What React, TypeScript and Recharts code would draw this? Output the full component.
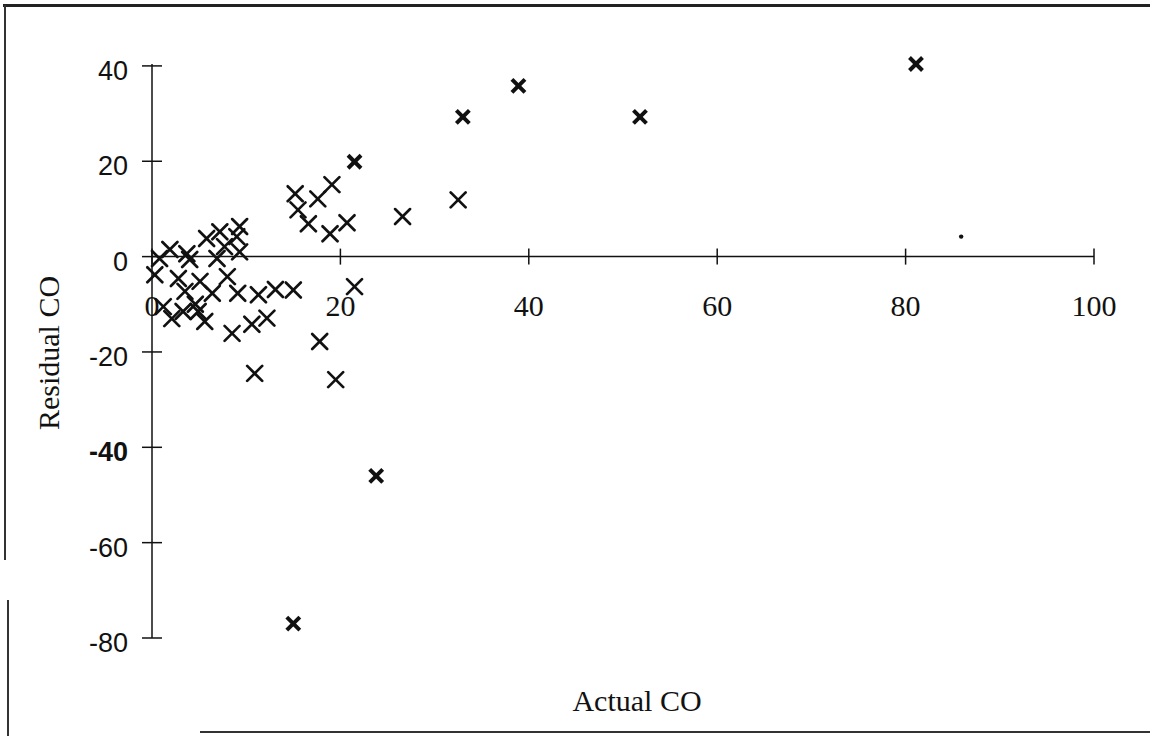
import React from 'react';
import { ScatterChart, Scatter, XAxis, YAxis, ReferenceLine, ReferenceDot } from 'recharts';

// thin "×" markers (most of the points)
const thinActual = [
  0.8, 1.9, 4.0, 3.7, 5.8, 6.9, 7.7, 7.2, 9.0, 9.3, 9.3,
  0.3, 2.8, 8.0, 5.1, 3.5, 6.4, 9.1, 4.6, 1.2, 2.1, 3.3, 4.9, 5.6,
  11.3, 13.1, 15.0, 12.2, 10.6, 8.5, 10.9, 19.5, 17.8, 21.5,
  15.2, 15.5, 16.6, 17.6, 19.1, 18.9, 20.7, 26.6, 32.5,
];
const thinResidual = [
  -0.4, 1.5, -0.6, 0.6, 3.8, -0.4, 2.1, 5.2, 4.2, 6.3, 1.0,
  -3.8, -4.6, -4.2, -5.2, -7.3, -7.7, -7.7, -10.0, -10.5, -13.0, -11.5, -11.5, -13.6,
  -8.0, -6.9, -7.0, -12.9, -14.2, -16.1, -24.5, -25.8, -17.8, -6.3,
  13.2, 9.8, 6.9, 12.1, 15.1, 4.8, 7.1, 8.4, 11.9,
];

// bold "x" markers
const boldActual = [81.1, 38.9, 33.0, 51.8, 21.5, 23.8, 15.0];
const boldResidual = [40.4, 35.8, 29.3, 29.3, 19.9, -46.0, -77.0];

// single dot
const dotActual = [85.9];
const dotResidual = [4.2];

const xTicks = [0, 20, 40, 60, 80, 100];
const yTicks = [40, 20, 0, -20, -40, -60, -80];

const zip = (xs: number[], ys: number[]) => xs.map((x, i) => ({ x, y: ys[i] }));
const thinData = zip(thinActual, thinResidual);
const boldData = zip(boldActual, boldResidual);
const dotData = zip(dotActual, dotResidual);

const INK = '#111';
const SERIF = '"Liberation Serif", "Times New Roman", serif';
const SANS = '"Liberation Sans", Arial, sans-serif';

const ThinCross = (props: any) => {
  const { cx, cy } = props;
  const s = 7.5;
  return (
    <g stroke={INK} strokeWidth={2.7} strokeLinecap="round">
      <line x1={cx - s} y1={cy - s} x2={cx + s} y2={cy + s} />
      <line x1={cx - s} y1={cy + s} x2={cx + s} y2={cy - s} />
    </g>
  );
};

const BoldCross = (props: any) => {
  const { cx, cy } = props;
  const s = 6.5;
  return (
    <g stroke={INK} strokeWidth={4}>
      <line x1={cx - s} y1={cy - s} x2={cx + s} y2={cy + s} />
      <line x1={cx - s} y1={cy + s} x2={cx + s} y2={cy - s} />
    </g>
  );
};

const Dot = (props: any) => <circle cx={props.cx} cy={props.cy} r={2.2} fill={INK} />;

const YTick = (props: any) => {
  const { x, y, payload } = props;
  return (
    <g>
      <line x1={x - 10} x2={x + 10} y1={y} y2={y} stroke={INK} strokeWidth={1.5} />
      <text
        x={x - 24}
        y={y}
        dy={14}
        textAnchor="end"
        fontFamily={SANS}
        fontSize={27}
        fontWeight={payload.value === -40 ? 'bold' : 'normal'}
        fill={INK}
      >
        {payload.value}
      </text>
    </g>
  );
};

const XTickMark = (props: any) => {
  const { cx, cy, value } = props;
  return (
    <g>
      <line x1={cx} x2={cx} y1={cy - 8} y2={cy + 8} stroke={INK} strokeWidth={1.5} />
      <text x={cx} y={cy + 49} dy="0.35em" textAnchor="middle" fontFamily={SERIF} fontSize={30} fill={INK}>
        {value}
      </text>
    </g>
  );
};

const YTitle = (props: any) => {
  const vb = props.viewBox;
  const x = vb.x - 44;
  const y = vb.y + vb.height / 2 + 2;
  return (
    <text x={x} y={y} dy="0.35em" textAnchor="middle" transform={`rotate(-90, ${x}, ${y})`} fontFamily={SERIF} fontSize={30} fill={INK}>
      Residual CO
    </text>
  );
};

const XTitle = (props: any) => {
  const vb = props.viewBox;
  return (
    <text x={vb.x + vb.width / 2 + 14} y={vb.y + 62} dy="0.35em" textAnchor="middle" fontFamily={SERIF} fontSize={30} fill={INK}>
      Actual CO
    </text>
  );
};

const App: React.FC = () => {
  return (
    <div style={{ position: 'absolute', left: 0, top: 0, width: 1150, height: 736, background: '#fff', overflow: 'hidden' }}>
      {/* scanned page frame */}
      <div style={{ position: 'absolute', left: 3, top: 4, width: 1147, height: 3, background: '#222' }} />
      <div style={{ position: 'absolute', left: 4, top: 5, width: 2, height: 555, background: '#333' }} />
      <div style={{ position: 'absolute', left: 7, top: 600, width: 2, height: 136, background: '#333' }} />
      <div style={{ position: 'absolute', left: 200, top: 731, width: 950, height: 2, background: '#333' }} />

      <ScatterChart width={1150} height={736} margin={{ top: 64, right: 56, bottom: 0, left: 92 }}>
        <XAxis
          type="number"
          dataKey="x"
          domain={[0, 100]}
          ticks={xTicks}
          axisLine={false}
          tickLine={false}
          tick={false}
          height={98}
          label={<XTitle />}
        />
        <YAxis
          type="number"
          dataKey="y"
          domain={[-80, 40]}
          ticks={yTicks}
          interval={0}
          width={60}
          tickSize={0}
          tickMargin={0}
          tickLine={false}
          axisLine={{ stroke: INK, strokeWidth: 1.5 }}
          tick={<YTick />}
          label={<YTitle />}
        />
        <ReferenceLine y={0} stroke={INK} strokeWidth={1.5} ifOverflow="visible" />
        {xTicks.map((t) => (
          <ReferenceDot key={t} x={t} y={0} ifOverflow="visible" shape={(p: any) => <XTickMark {...p} value={t} />} />
        ))}
        <Scatter data={thinData} shape={<ThinCross />} isAnimationActive={false} />
        <Scatter data={boldData} shape={<BoldCross />} isAnimationActive={false} />
        <Scatter data={dotData} shape={<Dot />} isAnimationActive={false} />
      </ScatterChart>
    </div>
  );
};

export default App;
